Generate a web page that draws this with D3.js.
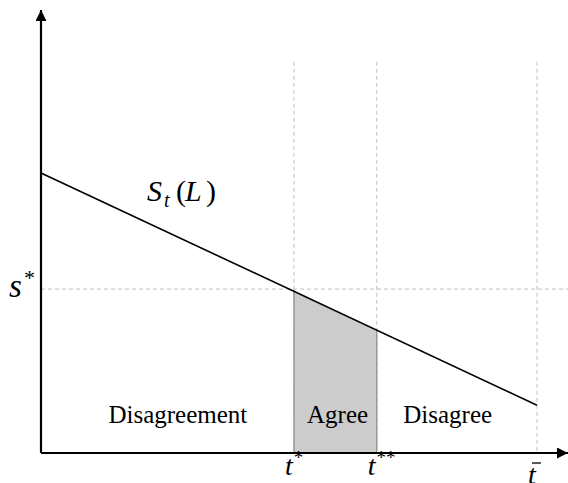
<!DOCTYPE html>
<html lang="en">
<head>
<meta charset="utf-8">
<script src="https://d3js.org/d3.v7.min.js"></script>
<style>
  body { margin: 0; background: #fff; }
</style>
</head>
<body>
<script>
// curve S_t(L): value at t = 0 and at t = tbar (=1)
var curveT = [0, 1];
var curveS = [0.632, 0.108];

// thresholds on the t axis
var tickNames = ["t*", "t**", "tbar"];
var tickT = [0.51, 0.677, 1];

// level s* and the curve heights at t* and t**
var sStar = 0.37;
var shadeT = [0.51, 0.677];
var shadeS = [0.368, 0.276];

// region labels
var regionNames = ["Disagreement", "Agree", "Disagree"];
var regionT = [0.276, 0.598, 0.82];

var width = 568, height = 483;
var serif = "Liberation Serif";

var x = d3.scaleLinear().domain([0, 1]).range([41, 537]);
var y = d3.scaleLinear().domain([0, 1]).range([453, 10]);

var svg = d3.select("body").append("svg")
    .attr("width", width)
    .attr("height", height);

var defs = svg.append("defs");
defs.append("marker")
    .attr("id", "arrow")
    .attr("viewBox", "0 0 10 10")
    .attr("refX", 10).attr("refY", 5)
    .attr("markerWidth", 6).attr("markerHeight", 5)
    .attr("markerUnits", "strokeWidth")
    .attr("orient", "auto")
  .append("path")
    .attr("d", "M0,0 L10,5 L0,10 Z")
    .attr("fill", "#000");

// shaded "agree" area under the curve
var area = d3.area()
    .x(function(d, i) { return x(shadeT[i]); })
    .y0(y(0))
    .y1(function(d) { return y(d); });
svg.append("path")
    .datum(shadeS)
    .attr("d", area)
    .attr("fill", "#cccccc");

// dashed guides
svg.selectAll(".vguide")
    .data(tickT)
    .enter().append("line")
    .attr("class", "vguide")
    .attr("x1", function(d) { return x(d); })
    .attr("x2", function(d) { return x(d); })
    .attr("y1", y(0.883))
    .attr("y2", y(0))
    .attr("stroke", "#c0c0c0")
    .attr("stroke-width", 1)
    .attr("stroke-dasharray", "4,3");

svg.append("line")
    .attr("x1", x(0)).attr("x2", width)
    .attr("y1", y(sStar)).attr("y2", y(sStar))
    .attr("stroke", "#c0c0c0")
    .attr("stroke-width", 1)
    .attr("stroke-dasharray", "4,3");

// edges of the shaded area
svg.selectAll(".edge")
    .data(shadeT)
    .enter().append("line")
    .attr("class", "edge")
    .attr("x1", function(d) { return x(d); })
    .attr("x2", function(d) { return x(d); })
    .attr("y1", function(d, i) { return y(shadeS[i]); })
    .attr("y2", y(0))
    .attr("stroke", "#8a8a8a")
    .attr("stroke-width", 1.2);

// the curve
var line = d3.line()
    .x(function(d, i) { return x(curveT[i]); })
    .y(function(d) { return y(d); });
svg.append("path")
    .datum(curveS)
    .attr("d", line)
    .attr("fill", "none")
    .attr("stroke", "#000")
    .attr("stroke-width", 1.6);

// axes
svg.append("line")
    .attr("x1", x(0)).attr("y1", y(0))
    .attr("x2", x(0)).attr("y2", y(1))
    .attr("stroke", "#000").attr("stroke-width", 2.2)
    .attr("marker-end", "url(#arrow)");
svg.append("line")
    .attr("x1", x(0)).attr("y1", y(0))
    .attr("x2", width).attr("y2", y(0))
    .attr("stroke", "#000").attr("stroke-width", 2.2)
    .attr("marker-end", "url(#arrow)");

// region labels
svg.selectAll(".region")
    .data(regionNames)
    .enter().append("text")
    .attr("class", "region")
    .attr("x", function(d, i) { return x(regionT[i]); })
    .attr("y", 423)
    .attr("text-anchor", "middle")
    .attr("font-family", serif)
    .attr("font-size", 25)
    .text(function(d) { return d; });

// s* on the vertical axis
var sLab = svg.append("text")
    .attr("font-family", serif).attr("font-style", "italic")
    .attr("x", 9).attr("y", 297).attr("font-size", 33);
sLab.append("tspan").text("s");
sLab.append("tspan").attr("x", 24).attr("dy", -12).attr("font-size", 22)
    .attr("font-style", "normal").text("*");

// S_t(L) curve label
var SLab = svg.append("text")
    .attr("font-family", serif).attr("font-style", "italic")
    .attr("x", 147).attr("y", 201).attr("font-size", 30);
SLab.append("tspan").text("S");
SLab.append("tspan").attr("x", 164).attr("dy", 6).attr("font-size", 20).text("t");
SLab.append("tspan").attr("x", 176).attr("dy", -6).attr("font-style", "normal").text("(");
SLab.append("tspan").attr("x", 185).text("L");
SLab.append("tspan").attr("x", 206).attr("font-style", "normal").text(")");

// t labels under the axis
var tick = svg.selectAll(".tlab")
    .data(tickNames)
    .enter().append("text")
    .attr("class", "tlab")
    .attr("font-family", serif).attr("font-style", "italic")
    .attr("x", function(d, i) { return x(tickT[i]) - 9; })
    .attr("y", function(d) { return d === "tbar" ? 484 : 475; })
    .attr("font-size", 28);
tick.append("tspan").text("t");
tick.filter(function(d) { return d !== "tbar"; })
  .append("tspan")
    .attr("dy", -11)
    .attr("dx", 1)
    .attr("font-size", 19)
    .attr("font-style", "normal")
    .text(function(d) { return d.slice(1); });
// bar over t-bar
svg.append("line")
    .attr("x1", x(tickT[2]) - 5).attr("x2", x(tickT[2]) + 4)
    .attr("y1", 463).attr("y2", 463)
    .attr("stroke", "#000").attr("stroke-width", 1.3);
</script>
</body>
</html>
